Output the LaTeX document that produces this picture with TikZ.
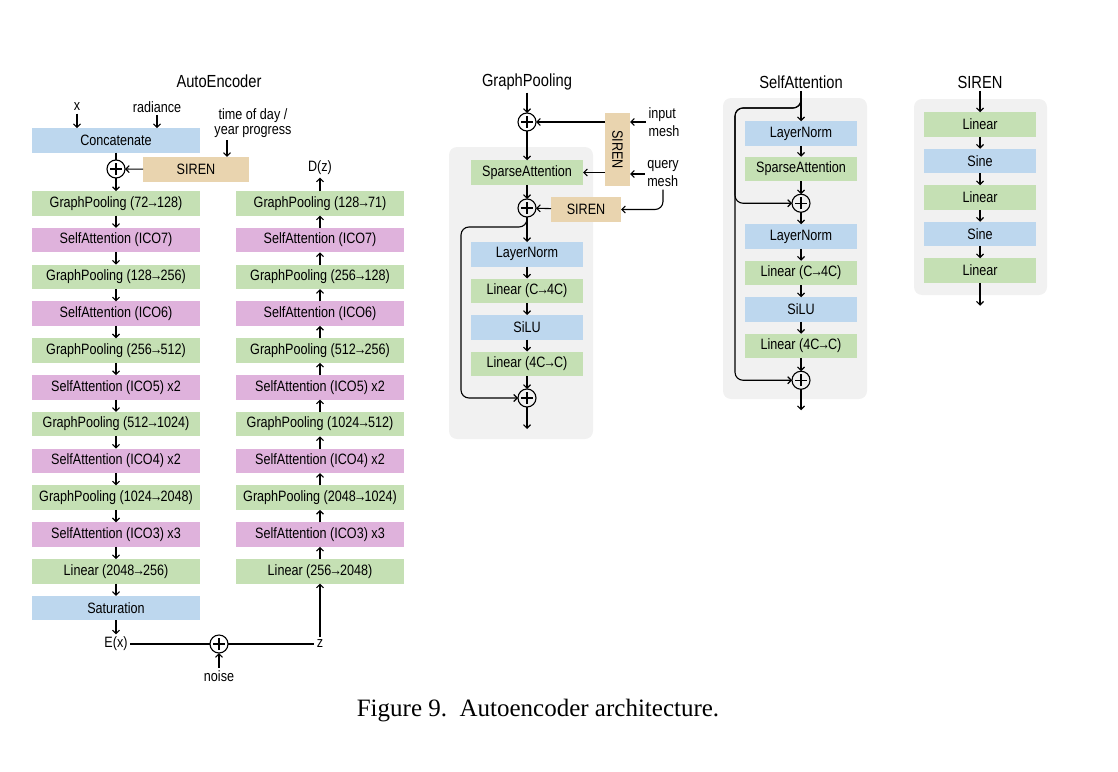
\documentclass[tikz,border=0pt]{standalone}
\usepackage{fontspec}
\setmainfont{Liberation Serif}
\newfontfamily\figfont[FakeStretch=0.84]{Liberation Sans}
\newcommand\lblfont{\figfont\fontsize{15}{18}\selectfont}
\newcommand\ttlfont{\figfont\fontsize{17.5}{20}\selectfont}
\newcommand\rarr{\kern-2pt→\kern-2pt}
\usepackage{xcolor}
\definecolor{colorNorm}{RGB}{189,215,238}
\definecolor{colorLinear}{RGB}{197,224,180}
\definecolor{colorAttention}{RGB}{223,178,220}
\definecolor{colorSiren}{RGB}{233,212,175}
\definecolor{colorPanel}{RGB}{241,241,241}
\usepackage{tikz}
\usetikzlibrary{arrows.meta, positioning}
\tikzset{
  blk/.style={minimum width=168pt, minimum height=24.5pt, inner sep=0pt, outer sep=0pt, font=\lblfont},
  sblk/.style={blk, minimum width=112pt},
  sirenbox/.style={fill=colorSiren, inner sep=0pt, outer sep=0pt, font=\lblfont},
  lbl/.style={font=\lblfont, inner sep=2pt},
  ttl/.style={font=\ttlfont, inner sep=2pt},
  plus/.style={circle, draw, minimum size=18pt, inner sep=0pt, outer sep=0pt,
    path picture={\draw (path picture bounding box.center) ++(-6pt,0) -- ++(12pt,0)
      (path picture bounding box.center) ++(0,-6pt) -- ++(0,12pt);}}
}

\begin{document}
\begin{tikzpicture}[x=1pt, y=-1pt, line width=1.1pt, >={Straight Barb[length=3.5pt,width=7pt]}]
\useasboundingbox (0,0) rectangle (1118,771);

\fill[colorPanel, rounded corners=8pt] (449,147) rectangle (593,439);
\fill[colorPanel, rounded corners=8pt] (723,98) rectangle (867,399);
\fill[colorPanel, rounded corners=8pt] (914,99) rectangle (1047,295);

\node[ttl] (aetitle) at (219,81) {AutoEncoder};
\node[lbl] (xin) at (77,107) {x};
\node[lbl] (rad) at (157,107) {radiance};
\node[lbl, align=center] (tod) at (253,123) {time of day /\\[-3pt]year progress};
\node[blk, fill=colorNorm] (concat) at (116,140.4) {Concatenate};
\node[plus] (encadd) at (116,169) {};
\node[sirenbox, minimum width=106pt, minimum height=24.7pt] (encsiren) at (196,169.3) {SIREN};
\node[blk, fill=colorLinear] (enc1) at (116,203.3) {GraphPooling (72\rarr128)};
\node[blk, fill=colorAttention, below=12.3pt of enc1] (enc2) {SelfAttention (ICO7)};
\node[blk, fill=colorLinear, below=12.3pt of enc2] (enc3) {GraphPooling (128\rarr256)};
\node[blk, fill=colorAttention, below=12.3pt of enc3] (enc4) {SelfAttention (ICO6)};
\node[blk, fill=colorLinear, below=12.3pt of enc4] (enc5) {GraphPooling (256\rarr512)};
\node[blk, fill=colorAttention, below=12.3pt of enc5] (enc6) {SelfAttention (ICO5) x2};
\node[blk, fill=colorLinear, below=12.3pt of enc6] (enc7) {GraphPooling (512\rarr1024)};
\node[blk, fill=colorAttention, below=12.3pt of enc7] (enc8) {SelfAttention (ICO4) x2};
\node[blk, fill=colorLinear, below=12.3pt of enc8] (enc9) {GraphPooling (1024\rarr2048)};
\node[blk, fill=colorAttention, below=12.3pt of enc9] (enc10) {SelfAttention (ICO3) x3};
\node[blk, fill=colorLinear, below=12.3pt of enc10] (enc11) {Linear (2048\rarr256)};
\node[blk, fill=colorNorm, below=12.3pt of enc11] (enc12) {Saturation};

\node[blk, fill=colorLinear, right=36pt of enc1] (dec1) {GraphPooling (128\rarr71)};
\node[blk, fill=colorAttention, right=36pt of enc2] (dec2) {SelfAttention (ICO7)};
\node[blk, fill=colorLinear, right=36pt of enc3] (dec3) {GraphPooling (256\rarr128)};
\node[blk, fill=colorAttention, right=36pt of enc4] (dec4) {SelfAttention (ICO6)};
\node[blk, fill=colorLinear, right=36pt of enc5] (dec5) {GraphPooling (512\rarr256)};
\node[blk, fill=colorAttention, right=36pt of enc6] (dec6) {SelfAttention (ICO5) x2};
\node[blk, fill=colorLinear, right=36pt of enc7] (dec7) {GraphPooling (1024\rarr512)};
\node[blk, fill=colorAttention, right=36pt of enc8] (dec8) {SelfAttention (ICO4) x2};
\node[blk, fill=colorLinear, right=36pt of enc9] (dec9) {GraphPooling (2048\rarr1024)};
\node[blk, fill=colorAttention, right=36pt of enc10] (dec10) {SelfAttention (ICO3) x3};
\node[blk, fill=colorLinear, right=36pt of enc11] (dec11) {Linear (256\rarr2048)};
\node[lbl] (dz) at (320,168) {D(z)};

\node[lbl] (ex) at (116,644) {E(x)};
\node[plus] (noiseadd) at (219,644) {};
\node[lbl] (zlat) at (320,644) {z};
\node[lbl] (noise) at (219,676) {noise};

\draw [->] (xin) -- (xin |- concat.north);
\draw [->] (rad) -- (rad |- concat.north);
\draw [->] ([xshift=-26pt]tod.south) -- ([xshift=31pt]encsiren.north);
\draw (concat) -- (encadd);
\draw [->] (encsiren) -- (encadd);
\draw [->] (encadd) edge (enc1) (enc1) edge (enc2) (enc2) edge (enc3) (enc3) edge (enc4)
  (enc4) edge (enc5) (enc5) edge (enc6) (enc6) edge (enc7) (enc7) edge (enc8)
  (enc8) edge (enc9) (enc9) edge (enc10) (enc10) edge (enc11) (enc11) edge (enc12) (enc12) edge (ex);
\draw [->] (dec11) edge (dec10) (dec10) edge (dec9) (dec9) edge (dec8) (dec8) edge (dec7)
  (dec7) edge (dec6) (dec6) edge (dec5) (dec5) edge (dec4) (dec4) edge (dec3)
  (dec3) edge (dec2) (dec2) edge (dec1) (dec1) edge (dz);
\draw (ex) -- (noiseadd) -- (zlat);
\draw [->] (noise) -- (noiseadd);
\draw [->] (zlat) -- (dec11);

\node[ttl] (gptitle) at (527,82) {GraphPooling};
\node[plus] (gpadd1) at (527,122) {};
\node[sblk, fill=colorLinear] (gpattn) at (527,172.5) {SparseAttention};
\node[sirenbox, minimum width=25pt, minimum height=73pt] (gpsirenv) at (617.5,149.5) {\rotatebox{-90}{SIREN}};
\node[lbl, align=left] (inmesh) at (664,122) {input\\mesh};
\node[lbl, align=left] (qmesh) at (663,174) {query\\mesh};
\node[plus] (gpadd2) at (527,208) {};
\node[sirenbox, minimum width=70pt, minimum height=25pt] (gpsirenh) at (586,209.5) {SIREN};
\node[sblk, fill=colorNorm, below=25pt of gpadd2] (gpnorm) {LayerNorm};
\node[sblk, fill=colorLinear, below=12pt of gpnorm] (gplin1) {Linear (C\rarr4C)};
\node[sblk, fill=colorNorm, below=12pt of gplin1] (gpsilu) {SiLU};
\node[sblk, fill=colorLinear, below=12pt of gpsilu] (gplin2) {Linear (4C\rarr C)};
\node[plus, below=13pt of gplin2] (gpadd3) {};
\coordinate[below=22pt of gpadd3] (gpout);
\coordinate (gpres) at (461,227);

\draw [->] (gptitle) -- (gpadd1);
\draw [->] (inmesh) -- (inmesh -| gpsirenv.east);
\draw [->] (qmesh) -- (qmesh -| gpsirenv.east);
\draw [->] (gpsirenv.west |- gpadd1) -- (gpadd1);
\draw [->] (gpsirenv.west |- gpattn) -- (gpattn);
\draw [->] (gpadd1) -- (gpattn);
\draw [->] (gpattn) -- (gpadd2);
\draw [->] (gpsirenh) -- (gpadd2);
\draw [->, rounded corners=8pt] (qmesh.south) |- (gpsirenh.east);
\draw [->] (gpadd2) edge (gpnorm) (gpnorm) edge (gplin1) (gplin1) edge (gpsilu)
  (gpsilu) edge (gplin2) (gplin2) edge (gpadd3) (gpadd3) edge (gpout);
\draw [->, rounded corners=8pt] (gpadd2.south) |- (gpres) |- (gpadd3);

\node[ttl] (satitle) at (801,82) {SelfAttention};
\node[sblk, fill=colorNorm] (sanorm1) at (801,133.5) {LayerNorm};
\node[sblk, fill=colorLinear, below=11pt of sanorm1] (saattn) {SparseAttention};
\node[plus, below=13pt of saattn] (saadd1) {};
\node[sblk, fill=colorNorm, below=12pt of saadd1] (sanorm2) {LayerNorm};
\node[sblk, fill=colorLinear, below=12pt of sanorm2] (salin1) {Linear (C\rarr4C)};
\node[sblk, fill=colorNorm, below=12pt of salin1] (sasilu) {SiLU};
\node[sblk, fill=colorLinear, below=12pt of sasilu] (salin2) {Linear (4C\rarr C)};
\node[plus, below=13pt of salin2] (saadd2) {};
\coordinate[below=21pt of saadd2] (saout);
\coordinate (sasplit) at (801,97);
\coordinate (saleft) at (735,108);

\draw [->] (satitle) -- (sanorm1);
\draw [->] (sanorm1) edge (saattn) (saattn) edge (saadd1) (saadd1) edge (sanorm2)
  (sanorm2) edge (salin1) (salin1) edge (sasilu) (sasilu) edge (salin2)
  (salin2) edge (saadd2) (saadd2) edge (saout);
\draw [->, rounded corners=8pt] (sasplit) |- (saleft) |- (saadd1);
\draw [->, rounded corners=8pt] (sasplit) |- (saleft) |- (saadd2);

\node[ttl] (sititle) at (980,82) {SIREN};
\node[sblk, fill=colorLinear] (silin1) at (980,124.5) {Linear};
\node[sblk, fill=colorNorm, below=12pt of silin1] (sisine1) {Sine};
\node[sblk, fill=colorLinear, below=12pt of sisine1] (silin2) {Linear};
\node[sblk, fill=colorNorm, below=12pt of silin2] (sisine2) {Sine};
\node[sblk, fill=colorLinear, below=12pt of sisine2] (silin3) {Linear};
\coordinate[below=23pt of silin3] (siout);

\draw [->] (sititle) edge (silin1) (silin1) edge (sisine1) (sisine1) edge (silin2)
  (silin2) edge (sisine2) (sisine2) edge (silin3) (silin3) edge (siout);

\node[font=\fontsize{25}{28}\selectfont] (caption) at (538,711) {Figure 9.\ \ Autoencoder architecture.};
\end{tikzpicture}
\end{document}
